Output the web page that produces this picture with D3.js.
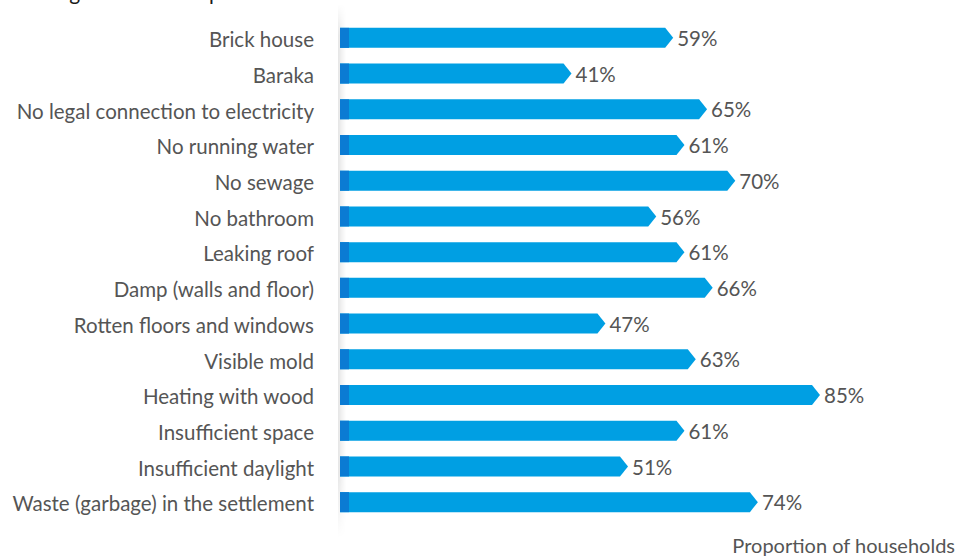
<!DOCTYPE html>
<html>
<head>
<meta charset="utf-8">
<script src="https://cdn.jsdelivr.net/npm/d3@7"></script>
<style>
  html, body { margin: 0; padding: 0; background: #fff; }
  svg { display: block; }
  text { font-family: Lato, "Open Sans", sans-serif; }
</style>
</head>
<body>
<svg id="chart" width="965" height="558"></svg>
<script>
// Housing conditions indicators (share of households, %)
const categories = [
  "Brick house",
  "Baraka",
  "No legal connection to electricity",
  "No running water",
  "No sewage",
  "No bathroom",
  "Leaking roof",
  "Damp (walls and floor)",
  "Rotten floors and windows",
  "Visible mold",
  "Heating with wood",
  "Insufficient space",
  "Insufficient daylight",
  "Waste (garbage) in the settlement"
];
const values = [59, 41, 65, 61, 70, 56, 61, 66, 47, 63, 85, 61, 51, 74];
const titleText = "Housing conditions in poor settlements";
const axisTitle = "Proportion of households";

const margin = { top: 20, left: 340 };
const svg = d3.select("#chart");

const data = categories.map((c, i) => ({ cat: c, val: values[i] }));

const x = d3.scaleLinear().domain([0, 85]).range([margin.left, 820]);
const y = d3.scaleBand().domain(categories).range([margin.top, 520]).paddingInner(0.44).paddingOuter(0.22);

const blue = "#009fe3";
const darkBlue = "#0b7bd3";
const textGrey = "#555555";
const tip = 8;
const fs = 20.5;

// Title (cropped at the top of the frame)
svg.append("text")
  .attr("x", 4).attr("y", 0)
  .attr("font-size", 21).attr("fill", "#1a1a1a")
  .text(titleText);

// Soft shadow along the category panel edge
const defs = svg.append("defs");
const gh = defs.append("linearGradient").attr("id", "shadeH").attr("x1", 0).attr("x2", 1).attr("y1", 0).attr("y2", 0);
gh.append("stop").attr("offset", 0).attr("stop-color", "#000").attr("stop-opacity", 0.10);
gh.append("stop").attr("offset", 1).attr("stop-color", "#000").attr("stop-opacity", 0.0);
const gv = defs.append("linearGradient").attr("id", "fadeV").attr("x1", 0).attr("x2", 0).attr("y1", 0).attr("y2", 1);
gv.append("stop").attr("offset", 0).attr("stop-color", "#fff").attr("stop-opacity", 0);
gv.append("stop").attr("offset", 0.06).attr("stop-color", "#fff").attr("stop-opacity", 1);
gv.append("stop").attr("offset", 0.88).attr("stop-color", "#fff").attr("stop-opacity", 1);
gv.append("stop").attr("offset", 1).attr("stop-color", "#fff").attr("stop-opacity", 0);
const mask = defs.append("mask").attr("id", "shadeMask");
mask.append("rect").attr("x", 330).attr("y", 4).attr("width", 30).attr("height", 534).attr("fill", "url(#fadeV)");
svg.append("rect")
  .attr("x", 338).attr("y", 4).attr("width", 8).attr("height", 534)
  .attr("fill", "url(#shadeH)").attr("mask", "url(#shadeMask)");

// Bars drawn as arrows pointing at the value
const bars = svg.append("g");
bars.selectAll("path.bar").data(data).join("path")
  .attr("class", "bar")
  .attr("fill", blue)
  .attr("d", d => {
    const x0 = x(0), x1 = x(d.val), y0 = y(d.cat), h = y.bandwidth();
    return `M${x0},${y0}H${x1 - tip}L${x1},${y0 + h / 2}L${x1 - tip},${y0 + h}H${x0}Z`;
  });
bars.selectAll("rect.cap").data(data).join("rect")
  .attr("class", "cap")
  .attr("x", x(0)).attr("y", d => y(d.cat))
  .attr("width", 9).attr("height", y.bandwidth())
  .attr("fill", darkBlue);

// Value labels
svg.append("g").selectAll("text").data(data).join("text")
  .attr("x", d => x(d.val) + 4)
  .attr("y", d => y(d.cat) + y.bandwidth() / 2)
  .attr("dy", "0.4em")
  .attr("font-size", fs).attr("fill", textGrey)
  .text(d => d.val + "%");

// Category labels
const yAxis = d3.axisLeft(y).tickSize(0).tickPadding(0);
const ga = svg.append("g").attr("transform", "translate(314,0)").call(yAxis);
ga.select(".domain").remove();
ga.selectAll("text").attr("font-size", fs).attr("fill", textGrey)
  .attr("font-family", "Lato, sans-serif").attr("dy", "0.45em");

// Axis title
svg.append("text")
  .attr("x", 955).attr("y", 553)
  .attr("text-anchor", "end")
  .attr("font-size", 20).attr("fill", textGrey)
  .text(axisTitle);
</script>
</body>
</html>
